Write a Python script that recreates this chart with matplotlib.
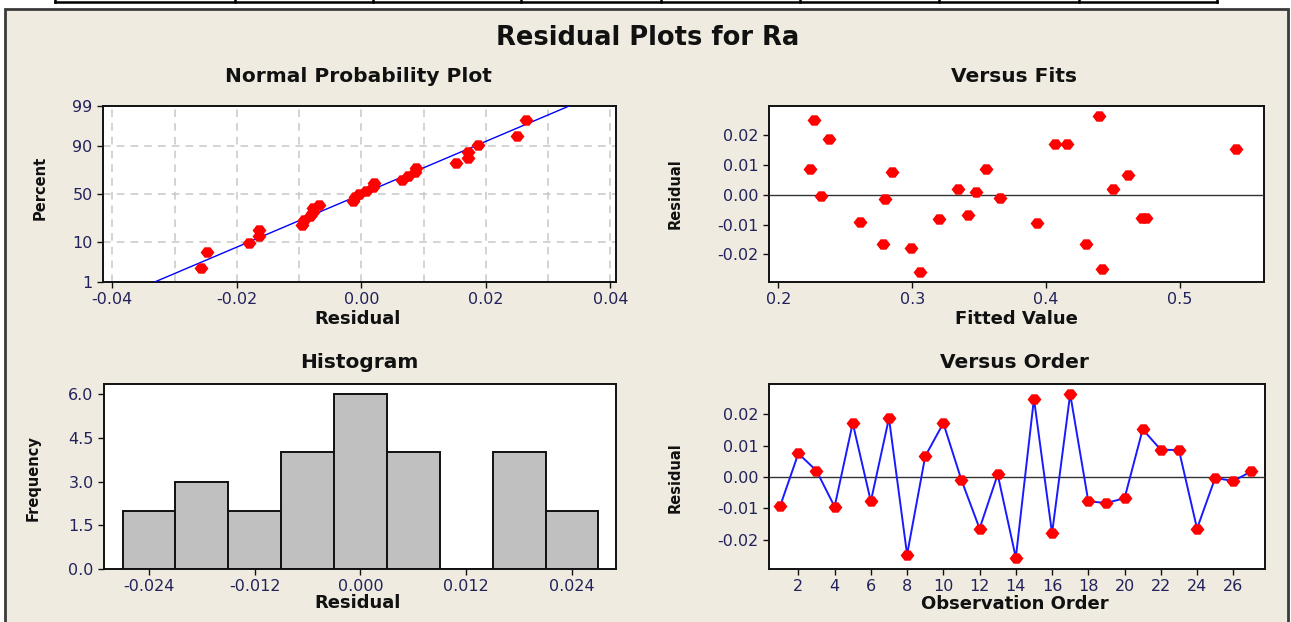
"""Minitab-style residual plots for Ra (four-in-one)."""

from statistics import NormalDist

import matplotlib

matplotlib.use("Agg")
import matplotlib.pyplot as plt
from matplotlib.lines import Line2D
from matplotlib.patches import Rectangle
from matplotlib.ticker import FixedLocator, MultipleLocator

W, H = 1291, 622

OBS = list(range(1, 28))
RESIDUALS = [
    -0.0092, 0.0075, 0.0020, -0.0095, 0.0172, -0.0078, 0.0188, -0.0248, 0.0066,
    0.0172, -0.0010, -0.0165, 0.0008, -0.0258, 0.0250, -0.0180, 0.0265, -0.0078,
    -0.0083, -0.0068, 0.0152, 0.0087, 0.0086, -0.0165, -0.0003, -0.0013, 0.0018,
]
FITTED = [
    0.261, 0.285, 0.450, 0.393, 0.407, 0.472, 0.238, 0.442, 0.461,
    0.416, 0.366, 0.278, 0.348, 0.306, 0.227, 0.299, 0.440, 0.475,
    0.320, 0.342, 0.542, 0.224, 0.355, 0.430, 0.232, 0.280, 0.334,
]

PCT_TICKS = [1, 10, 50, 90, 99]
NPP_XTICKS = [-0.04, -0.02, 0.0, 0.02, 0.04]
FIT_XTICKS = [0.2, 0.3, 0.4, 0.5]
RES_YTICKS = [-0.02, -0.01, 0.0, 0.01, 0.02]
HIST_EDGES = [-0.027, -0.021, -0.015, -0.009, -0.003, 0.003, 0.009, 0.015, 0.021, 0.027]
HIST_XTICKS = [-0.024, -0.012, 0.0, 0.012, 0.024]
HIST_YTICKS = [0.0, 1.5, 3.0, 4.5, 6.0]
ORDER_XTICKS = list(range(2, 27, 2))

BEIGE = "#efebe1"
TICK_COLOR = "#22225a"
DIAMOND = [(-1.2, 0), (-0.5, 0.9), (0.5, 0.9), (1.2, 0), (0.5, -0.9), (-0.5, -0.9), (-1.2, 0)]

plt.rcParams["axes.unicode_minus"] = False
plt.rcParams["font.family"] = "DejaVu Sans"


def fx(x):
    return x / W


def fy(y):
    return 1 - y / H


def make_axes(fig, left, top, right, bottom):
    ax = fig.add_axes([fx(left), fy(bottom), (right - left) / W, (bottom - top) / H])
    ax.set_zorder(2)
    ax.set_facecolor("white")
    for side in ax.spines.values():
        side.set_color("#111111")
        side.set_linewidth(1.4)
    ax.tick_params(direction="out", length=4, width=1, colors="#111111",
                   labelcolor=TICK_COLOR, labelsize=11.5, top=False, right=False)
    return ax


def red_points(ax, x, y):
    ax.plot(x, y, linestyle="none", marker=DIAMOND, markersize=10,
            color="#ff0000", markeredgewidth=0, zorder=5)


fig = plt.figure(figsize=(W / 100, H / 100), dpi=100, facecolor="white")

# page background: beige panel with dark frame, table rule above
fig.patches.append(Rectangle((fx(5), fy(640)), fx(1283), (640 - 9) / H, transform=fig.transFigure,
                             facecolor=BEIGE, edgecolor="#3a3a3a", linewidth=2, zorder=-5))
fig.lines.append(Line2D([fx(55), fx(1217)], [fy(2), fy(2)], transform=fig.transFigure,
                        color="black", linewidth=1.8, zorder=-4))
for xv in [55, 235, 373, 521, 661, 800, 939, 1079, 1217]:
    fig.lines.append(Line2D([fx(xv), fx(xv)], [fy(0), fy(2)], transform=fig.transFigure,
                            color="black", linewidth=1.8, zorder=-4))

nd = NormalDist()
n = len(RESIDUALS)
mean = sum(RESIDUALS) / n
sd = (sum((r - mean) ** 2 for r in RESIDUALS) / (n - 1)) ** 0.5
zlo, zhi = nd.inv_cdf(0.01), nd.inv_cdf(0.99)

# --- Normal probability plot
ax1 = make_axes(fig, 103, 106, 616, 282)
sorted_res = sorted(RESIDUALS)
zvals = [nd.inv_cdf((i + 1 - 0.3) / (n + 0.4)) for i in range(n)]
ax1.plot([mean + sd * zlo * 1.05, mean + sd * zhi * 1.05], [zlo * 1.05, zhi * 1.05],
         color="#0000ff", linewidth=1, zorder=4)
red_points(ax1, sorted_res, zvals)
ax1.set_xlim(-0.0415, 0.0409)
ax1.set_ylim(zlo, zhi)
ax1.set_xticks(NPP_XTICKS)
ax1.set_xticklabels([f"{v:.2f}" for v in NPP_XTICKS])
ax1.xaxis.set_minor_locator(MultipleLocator(0.01))
ax1.tick_params(which="minor", length=0)
ax1.set_yticks([nd.inv_cdf(p / 100) for p in PCT_TICKS])
ax1.set_yticklabels([str(p) for p in PCT_TICKS])
ax1.grid(True, which="both", color="#c8c8c8", linestyle=(0, (5, 4)), linewidth=1.1)
ax1.set_axisbelow(True)

# --- Versus fits
ax2 = make_axes(fig, 769, 106, 1264, 282)
ax2.axhline(0, color="#333333", linewidth=1, zorder=3)
red_points(ax2, FITTED, RESIDUALS)
ax2.set_xlim(0.193, 0.563)
ax2.set_ylim(-0.0293, 0.0298)
ax2.set_xticks(FIT_XTICKS)
ax2.set_xticklabels([f"{v:.1f}" for v in FIT_XTICKS])
ax2.set_yticks(RES_YTICKS)
ax2.set_yticklabels([f"{v:.2f}" for v in RES_YTICKS])

# --- Histogram
ax3 = make_axes(fig, 104, 384, 616, 569)
ax3.hist(RESIDUALS, bins=HIST_EDGES, color="#c0c0c0", edgecolor="#111111", linewidth=1.4)
ax3.set_xlim(-0.0291, 0.0290)
ax3.set_ylim(0, 6.35)
ax3.set_xticks(HIST_XTICKS)
ax3.set_xticklabels([f"{v:.3f}" for v in HIST_XTICKS])
ax3.set_yticks(HIST_YTICKS)
ax3.set_yticklabels([f"{v:.1f}" for v in HIST_YTICKS])

# --- Versus order
ax4 = make_axes(fig, 769, 384, 1265, 569)
ax4.axhline(0, color="#333333", linewidth=1, zorder=3)
ax4.plot(OBS, RESIDUALS, color="#1a1aff", linewidth=1.4, zorder=4)
red_points(ax4, OBS, RESIDUALS)
ax4.set_xlim(0.38, 27.75)
ax4.set_ylim(-0.0294, 0.0297)
ax4.xaxis.set_major_locator(FixedLocator(ORDER_XTICKS))
ax4.set_yticks(RES_YTICKS)
ax4.set_yticklabels([f"{v:.2f}" for v in RES_YTICKS])

# --- texts
bold = dict(fontweight="bold", color="#111111", ha="center", va="center")
fig.text(fx(648), fy(38), "Residual Plots for Ra", fontsize=18.5, **bold)
fig.text(fx(358), fy(76), "Normal Probability Plot", fontsize=14.5, **bold)
fig.text(fx(1014), fy(76), "Versus Fits", fontsize=14.5, **bold)
fig.text(fx(359), fy(362), "Histogram", fontsize=14.5, **bold)
fig.text(fx(1014), fy(362), "Versus Order", fontsize=14.5, **bold)
fig.text(fx(358), fy(319), "Residual", fontsize=13, **bold)
fig.text(fx(1016), fy(319), "Fitted Value", fontsize=13, **bold)
fig.text(fx(358), fy(603), "Residual", fontsize=13, **bold)
fig.text(fx(1015), fy(604), "Observation Order", fontsize=13, **bold)
fig.text(fx(40), fy(188), "Percent", fontsize=10.5, rotation=90, **bold)
fig.text(fx(675), fy(194), "Residual", fontsize=10.5, rotation=90, **bold)
fig.text(fx(33), fy(478), "Frequency", fontsize=10.5, rotation=90, **bold)
fig.text(fx(675), fy(478), "Residual", fontsize=10.5, rotation=90, **bold)

fig.savefig("out.png", dpi=100, facecolor=fig.get_facecolor())
